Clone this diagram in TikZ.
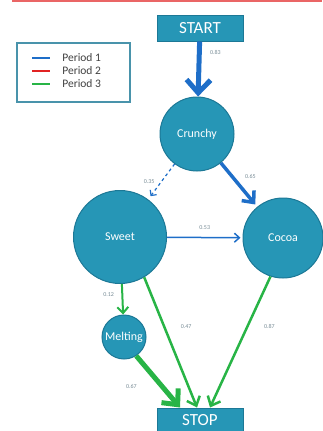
\documentclass[tikz,border=0pt]{standalone}
\usepackage{fontspec}
\setmainfont{Carlito}
\usetikzlibrary{arrows.meta}
\definecolor{statefill}{RGB}{38,150,182}
\definecolor{stateline}{RGB}{28,120,150}
\definecolor{pone}{RGB}{30,110,200}
\definecolor{ptwo}{RGB}{225,35,35}
\definecolor{pthree}{RGB}{40,180,70}
\definecolor{probtext}{RGB}{120,140,150}
\begin{document}
\begin{tikzpicture}[x=1pt, y=-1pt, >={Straight Barb},
  state/.style={circle, draw=stateline, line width=1pt, fill=statefill, text=white, inner sep=0pt, minimum size=#1, font=\fontsize{12}{12}\selectfont},
  endbox/.style={rectangle, draw=stateline, line width=1pt, fill=statefill, text=white, minimum width=86pt, minimum height=26pt, font=\fontsize{17}{17}\selectfont},
  prob/.style={font=\fontsize{6}{6}\selectfont, text=probtext},
  periodone/.style={draw=pone, ->},
  periodthree/.style={draw=pthree, ->}]
\useasboundingbox (0,0) rectangle (322,431);
\draw[ptwo!70, line width=1.5pt] (12,1) -- (322,1);

% legend
\draw[stateline!80, line width=1.2pt] (17,43) rectangle (130,102);
\foreach \col/\txt/\y in {pone/Period 1/58, ptwo/Period 2/71, pthree/Period 3/84}
  \draw[draw=\col, line width=2pt] (32,\y) -- (50,\y) node[right=8pt, text=black!75, font=\fontsize{11.5}{11.5}\selectfont]{\txt};

% states
\node[endbox] (start) at (200,28) {START};
\node[state=74pt] (crunchy) at (197,134) {Crunchy};
\node[state=93pt] (sweet) at (120,237) {Sweet};
\node[state=80pt] (cocoa) at (283,238) {Cocoa};
\node[state=44pt] (melting) at (124,337) {Melting};
\node[endbox, minimum height=24pt] (stop) at (200,420) {STOP};

% period 1
\draw[periodone, line width=5pt, -{Straight Barb[length=13pt, width=24pt]}] (start) -- node[prob, pos=0.2, right=5pt]{0.83} (crunchy);
\draw[periodone, line width=1.2pt, dashed, shorten >=4pt, -{Straight Barb[length=4pt, width=8pt]}] (crunchy) -- node[prob, left=3pt]{0.35} (sweet);
\draw[periodone, line width=3.5pt, shorten >=3pt, -{Straight Barb[length=9pt, width=16pt]}] (crunchy) -- node[prob, above right=1pt]{0.65} (cocoa);
\draw[periodone, line width=1.5pt, shorten >=2pt, -{Straight Barb[length=5pt, width=9pt]}] (sweet) -- node[prob, above=4pt]{0.53} (cocoa);

% period 3
\draw[periodthree, line width=2pt, -{Straight Barb[length=6pt, width=11pt]}] (sweet) -- node[prob, pos=0.35, left=4pt]{0.12} (melting);
\draw[periodthree, line width=2.5pt, -{Straight Barb[length=8pt, width=14pt]}] (sweet.-59) -- node[prob, pos=0.38, right=12pt]{0.47} ([xshift=-3pt]stop.north);
\draw[periodthree, line width=2.5pt, -{Straight Barb[length=8pt, width=14pt]}] (cocoa.-108) -- node[prob, pos=0.38, right=12pt]{0.87} ([xshift=10pt]stop.north);
\draw[periodthree, line width=5pt, -{Straight Barb[length=12pt, width=22pt]}] (melting.-57) -- node[prob, pos=0.6, left=20pt]{0.67} ([xshift=-20pt]stop.north);
\end{tikzpicture}
\end{document}
